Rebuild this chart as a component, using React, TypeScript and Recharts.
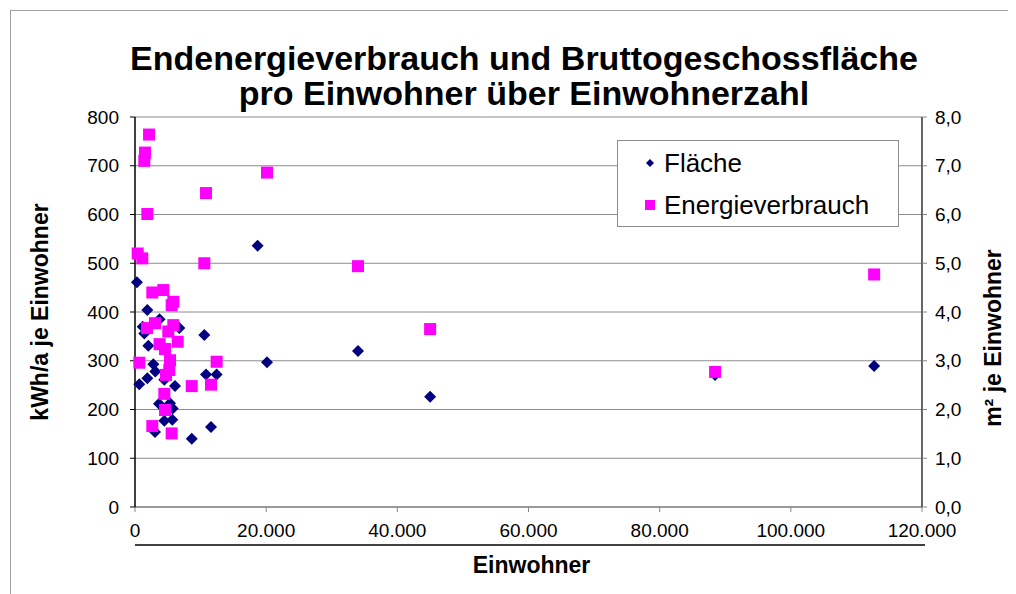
import { ScatterChart, Scatter, XAxis, YAxis, CartesianGrid, Legend } from "recharts";

const FONT = "'Liberation Sans', Arial, sans-serif";

// Einwohner / Energieverbrauch (kWh/a je Einwohner)
const energieX = [410, 1110, 2140, 1525, 1420, 1880, 10830, 20130, 10570, 2640, 4320, 5840, 5590, 5840, 3050, 1830, 5080, 3750, 6510, 4580, 660, 12450, 5340, 5230, 4730, 8650, 11590, 4470, 4580, 2640, 5590, 34000, 45000, 88450, 112700];
const energieY = [520, 510, 764, 727, 710, 601, 644, 686, 500, 440, 445, 421, 414, 373, 377, 367, 360, 334, 339, 324, 296, 298, 301, 281, 271, 248, 251, 232, 199, 166, 151, 494, 365, 277, 477];

// Einwohner / Bruttogeschossfläche (m² je Einwohner)
const flaecheX = [300, 18700, 1880, 3750, 1170, 1420, 6760, 10570, 2030, 2790, 3100, 1880, 650, 4470, 6100, 10830, 12450, 20130, 3660, 5340, 5750, 4470, 5690, 3050, 8650, 11590, 34000, 45000, 88450, 112700];
const flaecheY = [4.61, 5.36, 4.04, 3.85, 3.7, 3.56, 3.67, 3.53, 3.31, 2.93, 2.78, 2.64, 2.52, 2.61, 2.48, 2.72, 2.72, 2.97, 2.12, 2.13, 2.02, 1.77, 1.79, 1.54, 1.4, 1.64, 3.2, 2.26, 2.71, 2.89];

const xTicks = [0, 20000, 40000, 60000, 80000, 100000, 120000];
const leftTicks = [0, 100, 200, 300, 400, 500, 600, 700, 800];
const rightTicks = [0, 1, 2, 3, 4, 5, 6, 7, 8];
const legendOrder = ["Fläche", "Energieverbrauch"];

const energieData = energieX.map((x, i) => ({ x, y: energieY[i] }));
const flaecheData = flaecheX.map((x, i) => ({ x, y: flaecheY[i] }));

const fmtThousands = (v: number) => String(v).replace(/\B(?=(\d{3})+(?!\d))/g, ".");
const fmtComma = (v: number) => v.toFixed(1).replace(".", ",");

const Diamond = (props: any) => {
  const { cx, cy, fill } = props;
  const r = 6;
  return <polygon points={`${cx},${cy - r} ${cx + r},${cy} ${cx},${cy + r} ${cx - r},${cy}`} fill={fill} />;
};

const Square = (props: any) => {
  const { cx, cy, fill } = props;
  return <rect x={cx - 6} y={cy - 6} width={12} height={12} fill={fill} />;
};

const tickStyle = { fontSize: 19, fill: "#000", fontFamily: FONT };

function LegendBox({ payload }: any) {
  const items = [...(payload || [])].sort(
    (a: any, b: any) => legendOrder.indexOf(a.value) - legendOrder.indexOf(b.value)
  );
  return (
    <div
      style={{
        width: 282,
        height: 87,
        boxSizing: "border-box",
        border: "1px solid #8c8c8c",
        background: "#fff",
        fontFamily: FONT,
        fontSize: 26,
        color: "#000",
        paddingLeft: 25,
        paddingTop: 1,
      }}
    >
      {items.map((p: any) => (
        <div key={p.value} style={{ display: "flex", alignItems: "center", height: 42 }}>
          <svg width={14} height={16} style={{ marginRight: 7 }}>
            {p.value === "Fläche" ? (
              <polygon points="7,4 11,8 7,12 3,8" fill={p.color} />
            ) : (
              <rect x={2} y={3} width={10} height={10} fill={p.color} />
            )}
          </svg>
          <span>{p.value}</span>
        </div>
      ))}
    </div>
  );
}

export default function App() {
  return (
    <div style={{ position: "relative", width: 1008, height: 586, overflow: "hidden", background: "#fff" }}>
      <div
        style={{
          position: "absolute",
          left: 2,
          top: 2,
          width: 1100,
          height: 700,
          borderTop: "1px solid #a0a0a0",
          borderLeft: "1px solid #a0a0a0",
        }}
      />
      <div
        style={{
          position: "absolute",
          left: 16,
          top: 33,
          width: 1000,
          textAlign: "center",
          fontFamily: FONT,
          fontWeight: "bold",
          fontSize: 34,
          lineHeight: "35px",
          color: "#000",
        }}
      >
        Endenergieverbrauch und Bruttogeschossfläche
        <br />
        pro Einwohner über Einwohnerzahl
      </div>
      <ScatterChart width={1008} height={586} margin={{ top: 109, right: 14, left: 20, bottom: 0 }}>
        <CartesianGrid yAxisId="left" vertical={false} stroke="#8c8c8c" />
        <XAxis
          type="number"
          dataKey="x"
          domain={[0, 120000]}
          ticks={xTicks}
          tickFormatter={fmtThousands}
          height={87}
          tick={tickStyle}
          tickSize={5}
          tickMargin={12}
          tickLine={{ stroke: "#888" }}
          axisLine={{ stroke: "#999", strokeWidth: 2 }}
          label={{
            content: (props: any) => {
              const vb = props.viewBox;
              return (
                <g>
                  <line x1={vb.x} x2={vb.x + vb.width + 3} y1={vb.y + 38} y2={vb.y + 38} stroke="#000" strokeWidth={1.5} />
                  <text
                    x={vb.x + vb.width / 2 + 3}
                    y={vb.y + 66}
                    textAnchor="middle"
                    fontFamily={FONT}
                    fontWeight="bold"
                    fontSize={23}
                    fill="#000"
                  >
                    Einwohner
                  </text>
                </g>
              );
            },
          }}
        />
        <YAxis
          yAxisId="left"
          type="number"
          dataKey="y"
          domain={[0, 800]}
          ticks={leftTicks}
          width={107}
          tick={tickStyle}
          tickSize={5}
          tickMargin={11}
          tickLine={{ stroke: "#000" }}
          axisLine={{ stroke: "#000", strokeWidth: 1.5 }}
          label={{
            content: () => (
              <text
                x={32}
                y={304}
                transform="rotate(-90, 32, 304)"
                textAnchor="middle"
                dominantBaseline="central"
                fontFamily={FONT}
                fontWeight="bold"
                fontSize={23}
                fill="#000"
              >
                kWh/a je Einwohner
              </text>
            ),
          }}
        />
        <YAxis
          yAxisId="right"
          orientation="right"
          type="number"
          dataKey="y"
          domain={[0, 8]}
          ticks={rightTicks}
          tickFormatter={fmtComma}
          width={80}
          tick={tickStyle}
          tickSize={5}
          tickMargin={8}
          tickLine={{ stroke: "#888" }}
          axisLine={{ stroke: "#333", strokeWidth: 1.5 }}
          label={{
            content: () => (
              <text
                x={985}
                y={330}
                transform="rotate(-90, 985, 330)"
                textAnchor="middle"
                dominantBaseline="central"
                fontFamily={FONT}
                fontWeight="bold"
                fontSize={23}
                fill="#000"
              >
                m² je Einwohner
              </text>
            ),
          }}
        />
        <Legend
          layout="vertical"
          align="center"
          verticalAlign="middle"
          content={<LegendBox />}
          wrapperStyle={{ left: 609, top: 132, width: 282, height: 87 }}
        />
        <Scatter
          name="Fläche"
          data={flaecheData}
          yAxisId="right"
          fill="#000080"
          shape={<Diamond />}
          isAnimationActive={false}
        />
        <Scatter
          name="Energieverbrauch"
          data={energieData}
          yAxisId="left"
          fill="#ff00ff"
          shape={<Square />}
          isAnimationActive={false}
        />
      </ScatterChart>
    </div>
  );
}
